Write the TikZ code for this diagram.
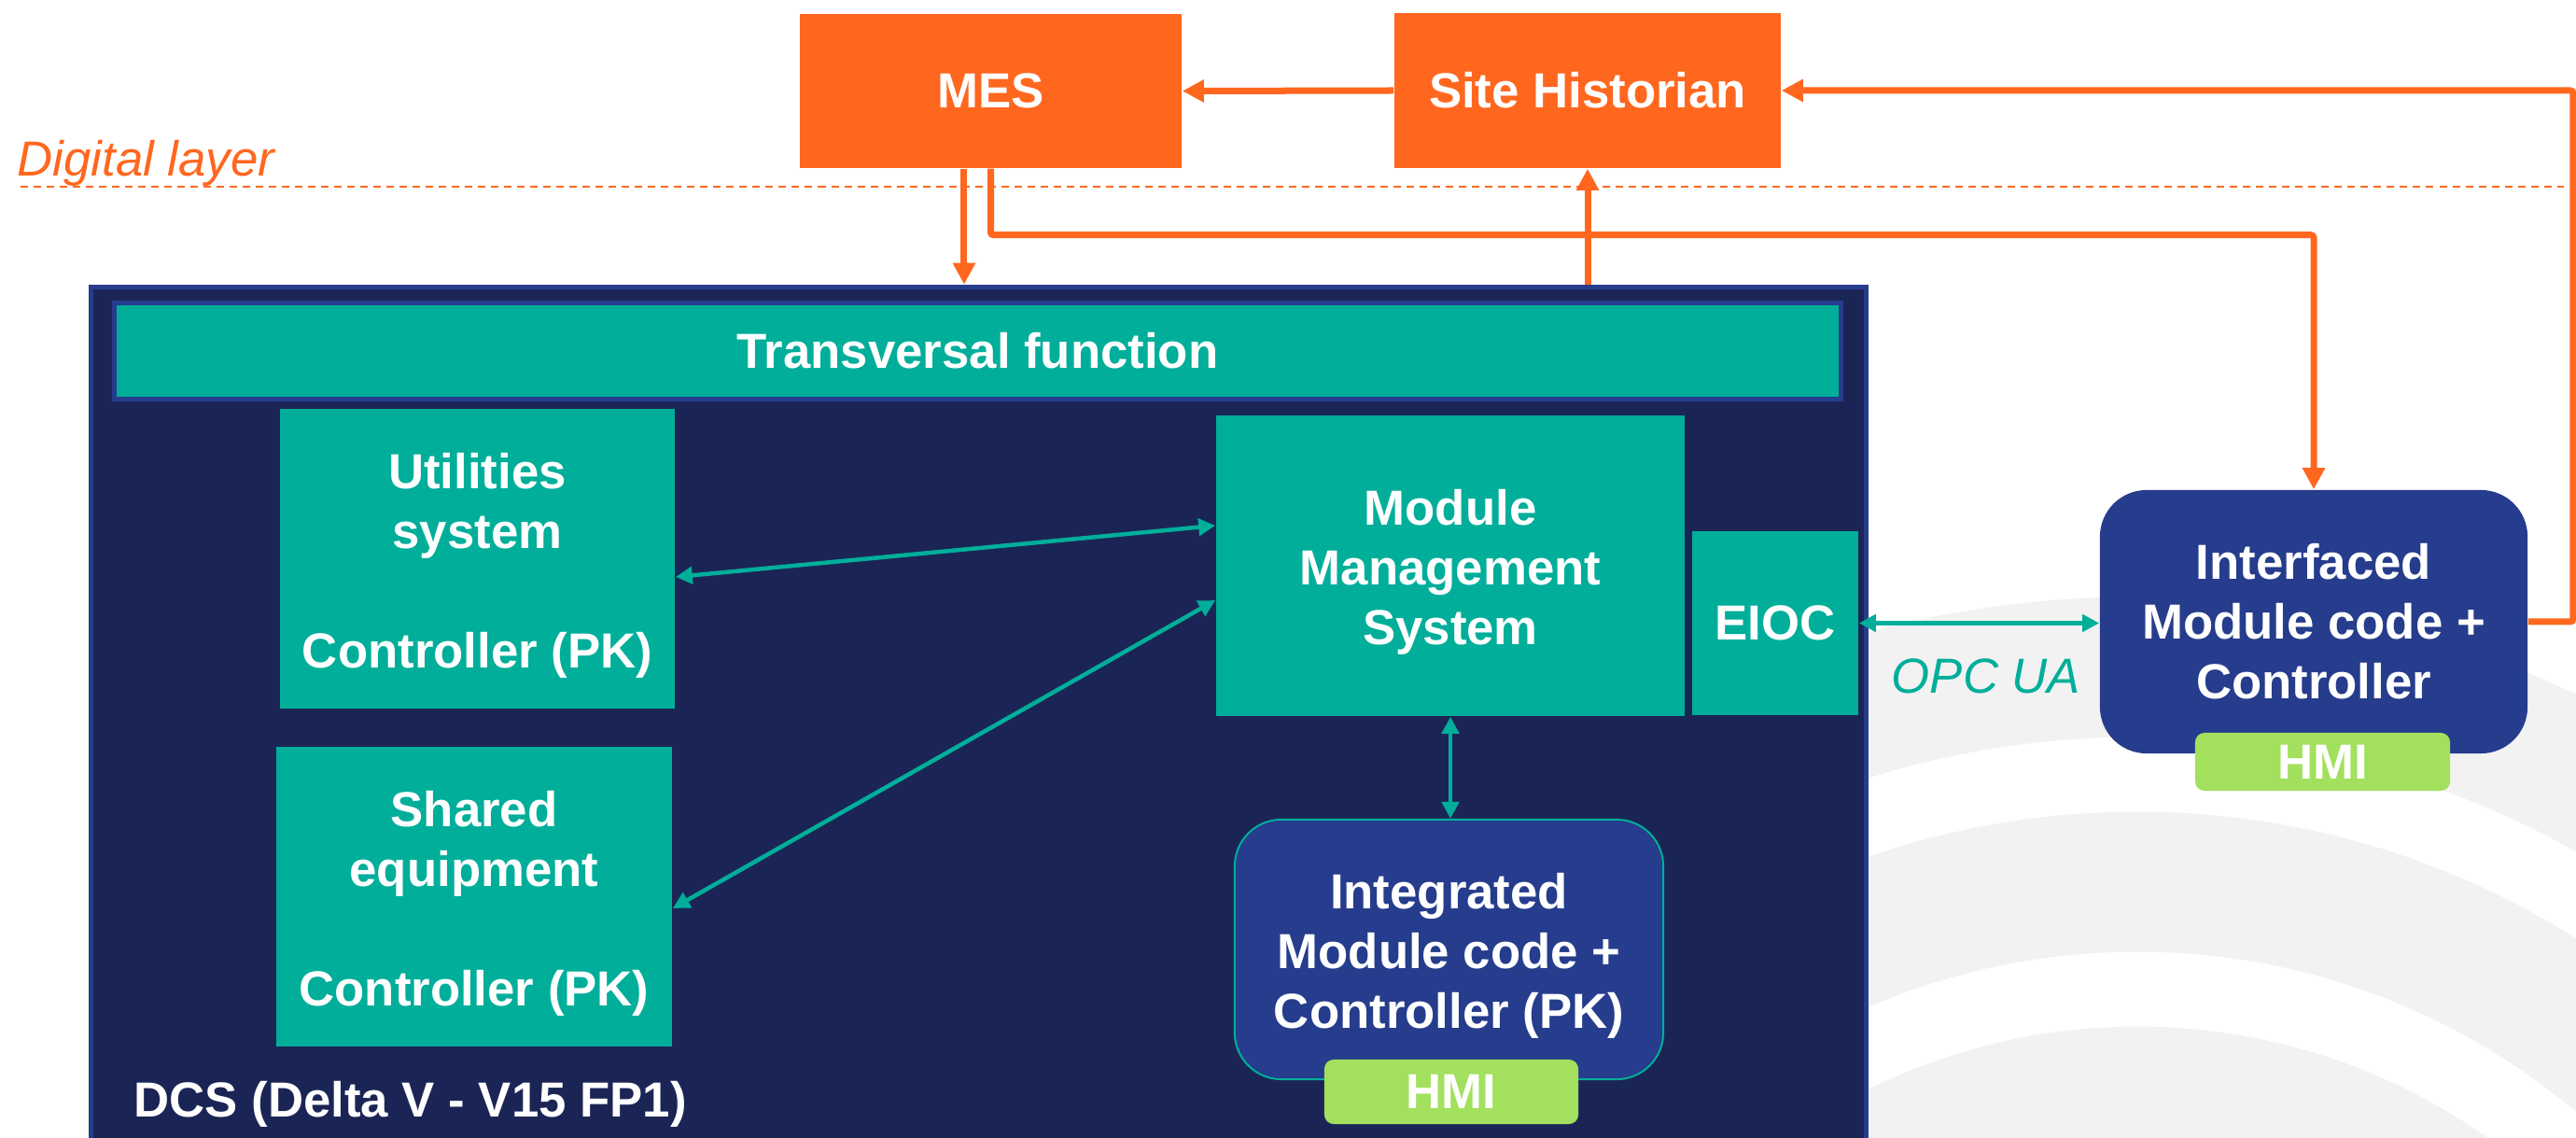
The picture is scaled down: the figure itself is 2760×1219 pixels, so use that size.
\documentclass[tikz,border=0pt]{standalone}
\usepackage{fontspec}
\setmainfont{Liberation Sans}
\usetikzlibrary{arrows.meta}

\definecolor{naranja}{HTML}{FF671F}
\definecolor{turquesa}{HTML}{00AE9A}
\definecolor{marino}{HTML}{1B2555}
\definecolor{azul}{HTML}{263C8C}
\definecolor{verde}{HTML}{A2E05E}
\definecolor{fondo}{HTML}{F2F2F2}

\tikzset{
  texto/.style={font=\bfseries\fontsize{15}{18.2}\selectfont, text=white, align=center, inner sep=0pt},
  rotulo/.style={texto, yshift=-0.07cm},
  caja/.style={texto, fill=turquesa},
  capa/.style={texto, fill=naranja},
  modulo/.style={texto, fill=azul, rounded corners=0.5cm},
  hmi/.style={texto, fill=verde, rounded corners=0.1cm},
  flecha/.style={draw=naranja, line width=0.07cm, rounded corners=0.03cm, arrows={-Triangle[length=2.3mm,width=2.3mm]}},
  enlace/.style={draw=turquesa, line width=0.045cm, arrows={Triangle[length=1.8mm,width=1.8mm]-Triangle[length=1.8mm,width=1.8mm]}}
}

\begin{document}
\begin{tikzpicture}[x=0.01cm, y=-0.01cm]
    \useasboundingbox (0,0) rectangle (2760,1219);
    \clip (0,0) rectangle (2760,1219);

    % marca de agua
    \fill[fondo, even odd rule] (2290,1750) circle[radius=11.1cm] circle[radius=9.6cm];
    \fill[fondo, even odd rule] (2290,1750) circle[radius=8.8cm] circle[radius=7.3cm];
    \fill[fondo, even odd rule] (2290,1750) circle[radius=6.5cm] circle[radius=4.7cm];

    % capa digital
    \draw[naranja, line width=0.02cm, dash pattern=on 0.08cm off 0.06cm] (22,200) -- (2747,200);
    \node[font=\itshape\fontsize{15}{18}\selectfont, text=naranja, anchor=base west, inner sep=0pt] (digital) at (18,189) {Digital layer};

    % DCS
    \node[draw=azul, line width=0.05cm, fill=marino, minimum width=19cm, minimum height=9.33cm] (dcs) at (1048.5,774) {};
    \node[texto, anchor=base west] (dcsnom) at (143,1196) {DCS (Delta V - V15 FP1)};
    \node[caja, draw=azul, line width=0.05cm, minimum width=18.48cm, minimum height=1.03cm] (transv) at (1047.5,376) {Transversal function};

    % controladores
    \node[caja, minimum width=4.23cm, minimum height=3.21cm,
          label={[rotulo]center:{Utilities\\system\\[0.64cm]Controller (PK)}}] (util) at (511.5,598.5) {};
    \node[caja, minimum width=4.24cm, minimum height=3.21cm,
          label={[rotulo]center:{Shared\\equipment\\[0.64cm]Controller (PK)}}] (shared) at (508,960.5) {};
    \node[caja, minimum width=5.02cm, minimum height=3.22cm,
          label={[rotulo]center:{Module\\Management\\System}}] (mms) at (1554,606) {};
    \node[caja, minimum width=1.78cm, minimum height=1.97cm] (eioc) at (1902,667.5) {EIOC};
    \node[modulo, draw=turquesa, line width=0.02cm, minimum width=4.59cm, minimum height=2.78cm,
          label={[rotulo]center:{Integrated\\Module code +\\Controller (PK)}}] (integ) at (1552.5,1017) {};
    \node[hmi, minimum width=2.72cm, minimum height=0.69cm] (hmiint) at (1555,1169.5) {HMI};

    % modulo externo
    \node[modulo, minimum width=4.58cm, minimum height=2.82cm] (inter) at (2479,666) {Interfaced\\Module code +\\Controller};
    \node[hmi, minimum width=2.73cm, minimum height=0.62cm] (hmiext) at (2488.5,816) {HMI};
    \node[font=\itshape\fontsize{15}{18}\selectfont, text=turquesa, anchor=base, inner sep=0pt] (opc) at (2128,743) {OPC UA};

    % nivel superior
    \node[capa, minimum width=4.09cm, minimum height=1.65cm] (mes) at (1061.5,97.5) {MES};
    \node[capa, minimum width=4.14cm, minimum height=1.66cm] (hist) at (1701,97) {Site Historian};

    % flechas naranjas
    \draw[flecha] (hist.west) -- (mes.east);
    \draw[flecha] (inter.east) -- ++(48,0) |- (hist.east);
    \draw[flecha] ([xshift=-0.285cm]mes.south) -- ([xshift=-0.285cm]mes.south |- dcs.north);
    \draw[flecha] (mes.south) -- ++(0,71) -| (inter.north);
    \draw[flecha] (hist.south |- dcs.north) -- (hist.south);

    % enlaces
    \draw[enlace] ([yshift=-0.195cm]util.east) -- ([yshift=0.43cm]mms.west);
    \draw[enlace] ([yshift=-0.125cm]shared.east) -- ([yshift=-0.37cm]mms.west);
    \draw[enlace] (mms.south) -- (mms.south |- integ.north);
    \draw[enlace] (eioc.east) -- (eioc.east -| inter.west);

\end{tikzpicture}
\end{document}
